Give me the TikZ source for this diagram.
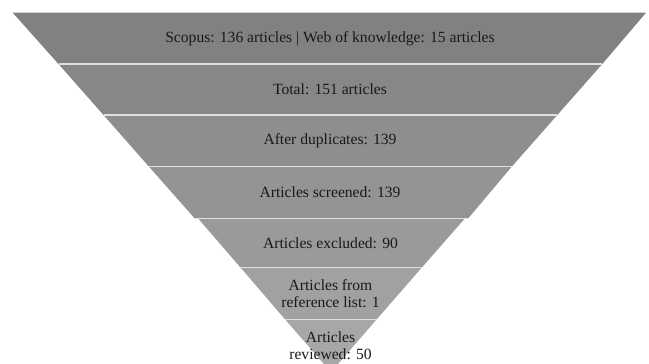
\documentclass[tikz,border=0pt]{standalone}
\usepackage{fontspec}
\setmainfont{Liberation Serif}
\begin{document}
\begin{tikzpicture}[x=1pt,y=-1pt,
  band/.style={fill=#1,draw=none},
  sep/.style={draw=white!88!black,line width=1.5pt},
  lbl/.style={text=black!90,align=center,font=\fontsize{15.6}{16.5}\selectfont,inner sep=0pt}]
\clip (0,0) rectangle (649,364);
\fill[white] (0,0) rectangle (649,364);
% bands
\fill[band=black!49.5]  (12.7,12.7) -- (646,12.7) -- (602.3,64) -- (58.5,64) -- cycle;
\fill[band=black!47] (58.5,64) -- (602.3,64) -- (557.3,115) -- (103.5,115) -- cycle;
\fill[band=black!44.5]  (103.5,115) -- (557.3,115) -- (511.7,166.7) -- (149,166.7) -- cycle;
\fill[band=black!42] (149,166.7) -- (511.7,166.7) -- (468.3,218.3) -- (194.6,218.3) -- cycle;
\fill[band=black!39.5]  (198,218.3) -- (465,218.3) -- (421.7,267.7) -- (240.7,267.7) -- cycle;
\fill[band=black!37] (240.7,267.7) -- (421.7,267.7) -- (376.7,319.3) -- (285,319.3) -- cycle;
\fill[band=black!34.5]  (285,319.3) -- (376.7,319.3) -- (331,372) -- cycle;
% separators
\coordinate (s1a) at (58.5,64);   \coordinate (s1b) at (602.3,64);
\coordinate (s2a) at (103.5,115); \coordinate (s2b) at (557.3,115);
\coordinate (s3a) at (149,166.7); \coordinate (s3b) at (511.7,166.7);
\coordinate (s4a) at (194.6,218.3); \coordinate (s4b) at (468.3,218.3);
\coordinate (s5a) at (240.7,267.7); \coordinate (s5b) at (421.7,267.7);
\coordinate (s6a) at (285,319.3); \coordinate (s6b) at (376.7,319.3);
\draw[sep] (s1a) -- (s1b);
\draw[sep] (s2a) -- (s2b);
\draw[sep] (s3a) -- (s3b);
\draw[sep] (s4a) -- (s4b);
\draw[sep] (s5a) -- (s5b);
\draw[sep] (s6a) -- (s6b);
% labels
\node[lbl] (t1) at (330,38.5) {Scopus: 136 articles | Web of knowledge: 15 articles};
\node[lbl] (t2) at (330,89.5) {Total: 151 articles};
\node[lbl] (t3) at (330,140.5) {After duplicates: 139};
\node[lbl] (t4) at (330,192) {Articles screened: 139};
\node[lbl] (t5) at (330.5,243) {Articles excluded: 90};
\node[lbl] (t6) at (330.5,293.5) {Articles from\\reference list: 1};
\node[lbl] (t7) at (330.5,345.5) {Articles\\reviewed: 50};
\end{tikzpicture}
\end{document}
